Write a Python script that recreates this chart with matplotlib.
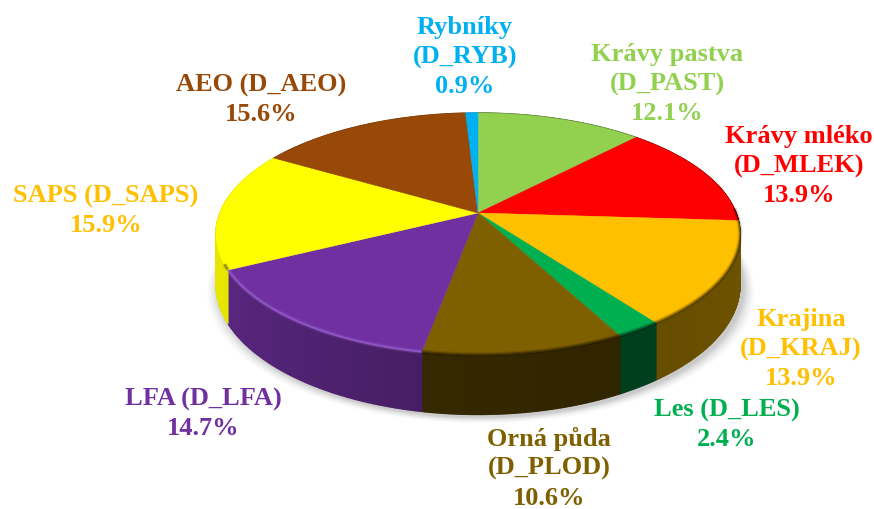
import numpy as np
import matplotlib
matplotlib.use("Agg")
import matplotlib.pyplot as plt
from matplotlib.collections import PolyCollection
from matplotlib.colors import to_rgb

# --- data (clockwise from 12 o'clock) ---
categories = ["Krávy pastva\n(D_PAST)", "Krávy mléko\n(D_MLEK)", "Krajina\n(D_KRAJ)",
              "Les (D_LES)", "Orná půda\n(D_PLOD)", "LFA (D_LFA)",
              "SAPS (D_SAPS)", "AEO (D_AEO)", "Rybníky\n(D_RYB)"]
values = [12.1, 13.9, 13.9, 2.4, 10.6, 14.7, 15.9, 15.6, 0.9]
colors = ["#92D050", "#FF0000", "#FFC000", "#00B050", "#7F6000",
          "#7030A0", "#FFFF00", "#984807", "#00B0F0"]
label_colors = ["#92D050", "#FF0000", "#FFC000", "#00B050", "#7F6000",
                "#7030A0", "#FFC000", "#984807", "#00B0F0"]
# side-wall brightness at the start and end of each slice
side_shades = [(0.5, 0.5), (0.5, 0.5), (0.44, 0.40), (0.36, 0.36), (0.38, 0.42),
               (0.63, 0.80), (0.9, 0.9), (0.8, 0.8), (0.8, 0.8)]

# --- layout (pixels of the figure) ---
label_pos = [(667, 84), (799, 166), (801, 349), (727, 425), (549, 468),
             (203, 414), (106, 211), (261, 100), (465, 57)]
CX, CY = 478, 213      # apex of the pie
RX, RY = 258, 117.4    # radii before perspective
K = 0.174              # perspective strength
DEPTH = 49             # thickness of the disc

W, H = 874, 509
fig = plt.figure(figsize=(W / 100, H / 100), dpi=100, facecolor="white")
ax = fig.add_axes([0, 0, 1, 1])
ax.set_xlim(0, W)
ax.set_ylim(H, 0)
ax.axis("off")


def project(theta, r=1.0, drop=0.0):
    """theta: degrees clockwise from 12 o'clock -> pixel position."""
    t = np.radians(theta)
    u, v = r * np.sin(t), r * np.cos(t)
    w = 1 + K * v
    return CX + RX * u / w, CY + (-RY * v + drop) / w


# soft shadow beneath the disc
full = np.linspace(0, 360, 361)
for grow, alpha in zip(np.linspace(12, 1, 12), np.linspace(0.008, 0.028, 12)):
    x, y = project(full, 1.0, DEPTH + 2)
    ax.fill(CX + (x - CX) * (1 + grow / 262) + 3, y + grow * 0.55, color="black",
            alpha=alpha, lw=0, zorder=1)

edges = np.concatenate([[0], np.cumsum(values)]) / np.sum(values) * 360

# side walls
for a0, a1, col, (s0, s1) in zip(edges[:-1], edges[1:], colors, side_shades):
    th = np.linspace(a0, a1, max(int(a1 - a0) * 2, 3))
    polys, cols = [], []
    base = np.array(to_rgb(col))
    for t0, t1 in zip(th[:-1], th[1:]):
        x0, y0 = project(t0)
        x1, y1 = project(t1)
        x2, y2 = project(t1, 1.0, DEPTH)
        x3, y3 = project(t0, 1.0, DEPTH)
        polys.append([(x0, y0), (x1, y1), (x2, y2), (x3, y3)])
        f = s0 + (s1 - s0) * ((t0 + t1) / 2 - a0) / (a1 - a0)
        cols.append(base * f)
    ax.add_collection(PolyCollection(polys, facecolors=cols, edgecolors=cols,
                                     linewidths=1.0, zorder=2))

# top faces
for a0, a1, col in zip(edges[:-1], edges[1:], colors):
    th = np.linspace(a0, a1, max(int(a1 - a0) * 2, 3))
    x, y = project(th)
    ax.fill(np.r_[CX, x], np.r_[CY, y], color=col, lw=0.3, zorder=3)
    # soft bevel along the front rim only
    mask = (th > 88) & (th < 246)
    if mask.sum() > 1:
        light = col == "#7030A0"
        for lw, al in ((3.5, 0.10), (2.0, 0.18), (1.0, 0.22)):
            ax.plot(x[mask], y[mask] - 0.5, color=("#C08CFF" if light else "black"),
                    lw=lw, alpha=al, solid_capstyle="butt", zorder=4)

# labels
for name, val, col, (lx, ly) in zip(categories, values, label_colors, label_pos):
    ax.text(lx, ly, f"{name}\n{val:.1f}%", color=col, ha="center", va="center",
            family="Liberation Serif", fontweight="bold", fontsize=19,
            linespacing=1.35, zorder=5)

fig.savefig("out.png", dpi=100, facecolor="white")
